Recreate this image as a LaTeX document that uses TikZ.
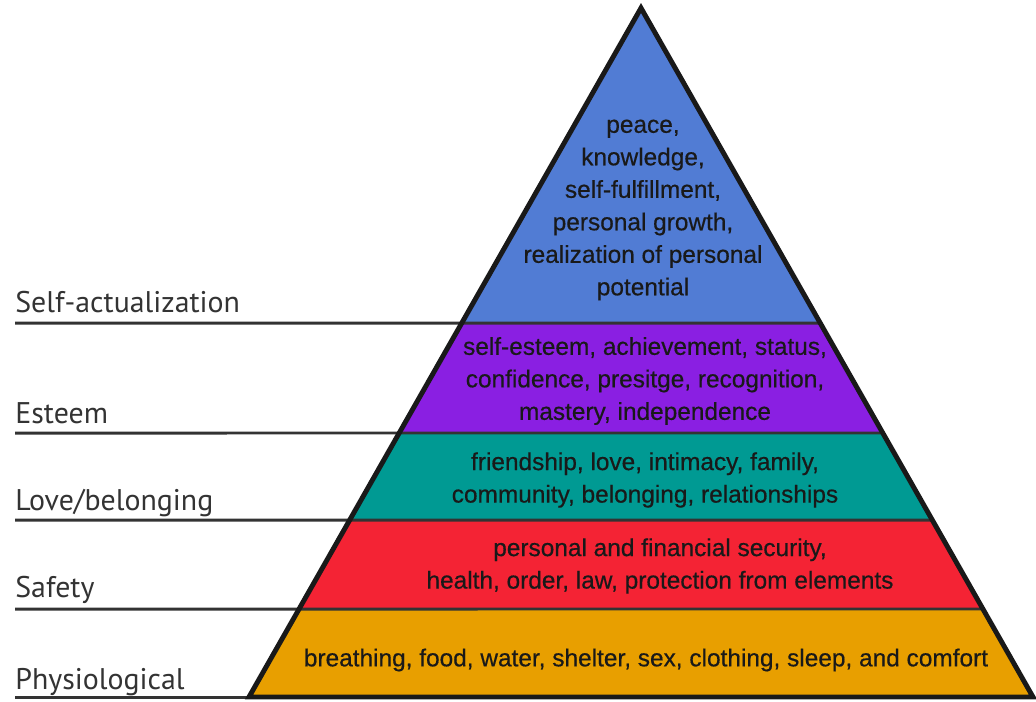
\documentclass[tikz,border=0pt]{standalone}
\usepackage{fontspec}
\setmainfont{Liberation Sans}
\newfontfamily\lvlfont{Liberation Sans}[FakeBold=0.5]
\newfontfamily\labelfont{PT Sans}
\usetikzlibrary{calc}
\definecolor{selfblue}{HTML}{517CD4}
\definecolor{esteempurple}{HTML}{8A1FE2}
\definecolor{loveteal}{HTML}{009A93}
\definecolor{safered}{HTML}{F42334}
\definecolor{physorange}{HTML}{E89F00}
\definecolor{linegray}{HTML}{333333}

\begin{document}
\begin{tikzpicture}[x=0.02cm, y=-0.02cm,
                    lvltext/.style={align = center, inner sep = 0pt,
                    text = black!90, font = \lvlfont\fontsize{13.9}{18.5}\selectfont},
                    sidelabel/.style={anchor = base west, inner sep = 0pt,
                    text = linegray, font = \labelfont\fontsize{17}{20}\selectfont},
                    divline/.style={draw = linegray, line width = 1.7pt},
                    outline/.style={draw = black!90, line width = 2.8pt, line join = miter}]
                    \useasboundingbox (0,0) rectangle (1036,701);

                    \coordinate (apex) at (641,8);
                    \coordinate (bl) at (249,697);
                    \coordinate (br) at (1033,697);

                    % layers
                    \foreach \ya/\yb/\col in {8/323/selfblue, 323/433/esteempurple, 433/520/loveteal, 520/609/safered, 609/697/physorange}{
                      \pgfmathsetmacro\ta{(\ya-8)/689}
                      \pgfmathsetmacro\tb{(\yb-8)/689}
                      \fill[\col] ($(apex)!\ta!(bl)$) -- ($(apex)!\ta!(br)$) -- ($(apex)!\tb!(br)$) -- ($(apex)!\tb!(bl)$) -- cycle;
                    }

                    % dividers
                    \foreach \y in {323,433,520,609}{
                      \pgfmathsetmacro\t{(\y-8)/689}
                      \coordinate (l\y) at (15,\y);
                      \draw[divline] (l\y) -- ($(apex)!\t!(br)$);
                    }
                    \coordinate (lbase) at (15,697);
                    \draw[divline] (lbase) -- (br);
                    \draw[outline] (apex) -- (br) -- (bl) -- cycle;

                    \node[lvltext] (selftxt) at (643,210) {peace,\\knowledge,\\self-fulfillment,\\personal growth,\\realization of personal\\potential};
                    \node[lvltext] (esteemtxt) at (645,381) {self-esteem, achievement, status,\\confidence, presitge, recognition,\\mastery, independence};
                    \node[lvltext] (lovetxt) at (645,480) {friendship, love, intimacy, family,\\community, belonging, relationships};
                    \node[lvltext] (safetxt) at (660,566) {personal and financial security,\\health, order, law, protection from elements};
                    \node[lvltext] (phystxt) at (646,660) {breathing, food, water, shelter, sex, clothing, sleep, and comfort};

                    \node[sidelabel] (selflbl) at (15,312) {Self-actualization};
                    \node[sidelabel] (esteemlbl) at (15,423) {Esteem};
                    \node[sidelabel] (lovelbl) at (15,510) {Love/belonging};
                    \node[sidelabel] (safelbl) at (15,597) {Safety};
                    \node[sidelabel] (physlbl) at (15,689) {Physiological};
                    \end{tikzpicture}
\end{document}
